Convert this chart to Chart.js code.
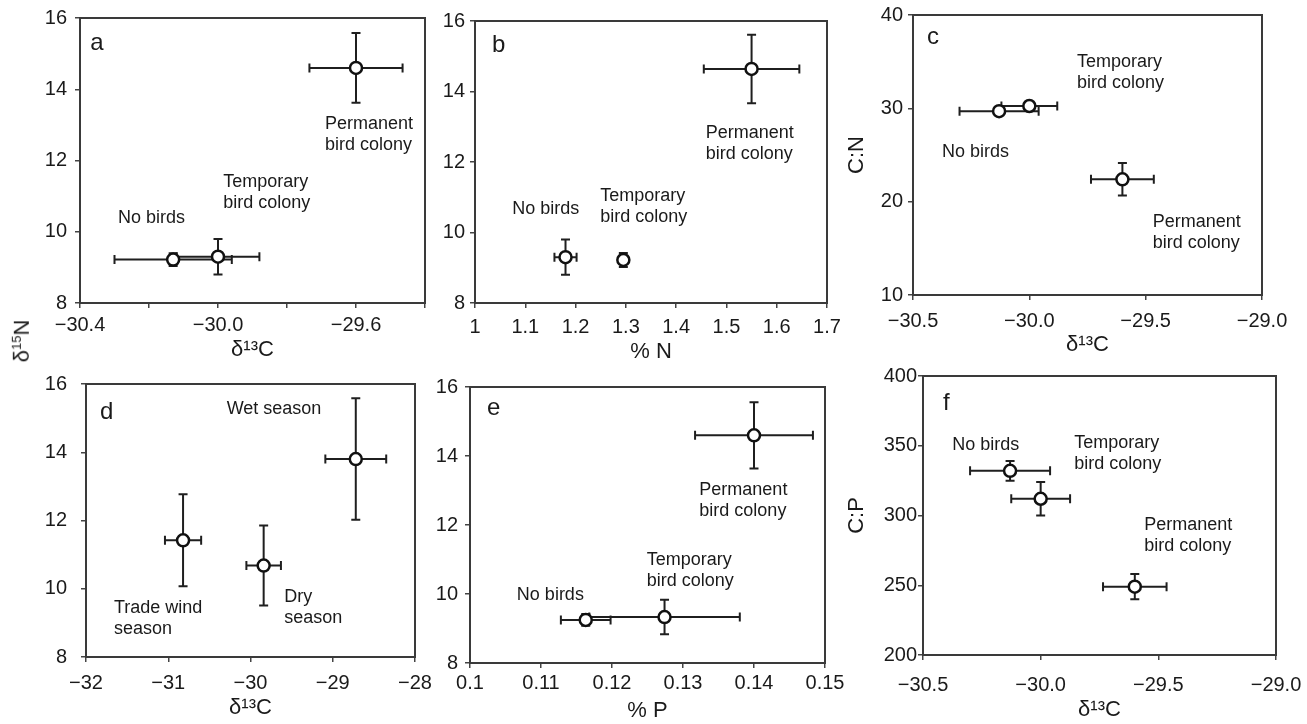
<!DOCTYPE html>
<html>
<head>
<meta charset="utf-8">
<script src="https://cdn.jsdelivr.net/npm/chart.js@4.4.1/dist/chart.umd.min.js"></script>
<style>
  body { margin: 0; background: #fff; width: 1307px; height: 724px; position: relative; overflow: hidden; font-family: "Liberation Sans", Arial, sans-serif; }
  .panel { position: absolute; }
  #ylab { position: absolute; left: 22px; top: 341px; transform: translate(-50%, -50%) rotate(-90deg); font-size: 22px; color: #1a1a1a; white-space: nowrap; }
  #ylab sup { font-size: 13px; }
</style>
</head>
<body>
<div class="panel" style="left:0;top:0;width:440px;height:363px"><canvas id="a"></canvas></div>
<div class="panel" style="left:430px;top:0;width:430px;height:365px"><canvas id="b"></canvas></div>
<div class="panel" style="left:844px;top:0;width:463px;height:358px"><canvas id="c"></canvas></div>
<div class="panel" style="left:0;top:365px;width:440px;height:356px"><canvas id="d"></canvas></div>
<div class="panel" style="left:430px;top:365px;width:430px;height:359px"><canvas id="e"></canvas></div>
<div class="panel" style="left:844px;top:365px;width:463px;height:358px"><canvas id="f"></canvas></div>
<div id="ylab">δ<sup>15</sup>N</div>
<script>
// groups: No birds, Temporary bird colony, Permanent bird colony
// panel a: d13C vs d15N
var aX = [-30.13, -30.0, -29.6];
var aY = [9.22, 9.3, 14.6];
var aXErr = [0.17, 0.12, 0.135];
var aYErr = [0.18, 0.5, 0.98];
// panel b: %N vs d15N
var bX = [1.18, 1.295, 1.55];
var bY = [9.3, 9.22, 14.64];
var bXErr = [0.022, 0.006, 0.095];
var bYErr = [0.5, 0.2, 0.97];
// panel c: d13C vs C:N
var cX = [-30.13, -30.0, -29.6];
var cY = [29.7, 30.25, 22.4];
var cXErr = [0.17, 0.12, 0.135];
var cYErr = [0.3, 0.4, 1.75];
// panel d: seasons (Trade wind, Dry, Wet)
var dX = [-30.82, -29.84, -28.72];
var dY = [11.42, 10.68, 13.8];
var dXErr = [0.22, 0.21, 0.37];
var dYErr = [1.35, 1.17, 1.78];
// panel e: %P vs d15N
var eX = [0.1163, 0.1274, 0.140];
var eY = [9.25, 9.33, 14.6];
var eXErr = [0.0035, 0.0106, 0.0083];
var eYErr = [0.17, 0.5, 0.96];
// panel f: d13C vs C:P
var fX = [-30.13, -30.0, -29.6];
var fY = [332, 312, 249];
var fXErr = [0.17, 0.125, 0.135];
var fYErr = [7, 12, 9];

// tick values and labels
var d15Ticks = [8, 10, 12, 14, 16];
var d15Labels = ['8', '10', '12', '14', '16'];
var aXTicks = [-30.4, -30.2, -30.0, -29.8, -29.6, -29.4];
var aXLabels = ['−30.4', '', '−30.0', '', '−29.6', ''];
var bXTicks = [1, 1.1, 1.2, 1.3, 1.4, 1.5, 1.6, 1.7];
var bXLabels = ['1', '1.1', '1.2', '1.3', '1.4', '1.5', '1.6', '1.7'];
var cfXTicks = [-30.5, -30.0, -29.5, -29.0];
var cfXLabels = ['−30.5', '−30.0', '−29.5', '−29.0'];
var cYTicks = [10, 20, 30, 40];
var cYLabels = ['10', '20', '30', '40'];
var dXTicks = [-32, -31, -30, -29, -28];
var dXLabels = ['−32', '−31', '−30', '−29', '−28'];
var eXTicks = [0.10, 0.11, 0.12, 0.13, 0.14, 0.15];
var eXLabels = ['0.1', '0.11', '0.12', '0.13', '0.14', '0.15'];
var fYTicks = [200, 250, 300, 350, 400];
var fYLabels = ['200', '250', '300', '350', '400'];

Chart.defaults.font.family = '"Liberation Sans", Arial, sans-serif';
Chart.defaults.color = '#1a1a1a';

var INK = '#1f1f1f';

// error bars under the markers, frame and text notes on top
var extras = {
  id: 'extras',
  beforeDatasetsDraw: function(chart) {
    var ctx = chart.ctx, sx = chart.scales.x, sy = chart.scales.y;
    ctx.save();
    ctx.strokeStyle = INK;
    ctx.lineWidth = 2;
    chart.data.datasets.forEach(function(ds) {
      ds.data.forEach(function(p, i) {
        var px = sx.getPixelForValue(p.x), py = sy.getPixelForValue(p.y);
        var x0 = sx.getPixelForValue(p.x - ds.xErr[i]), x1 = sx.getPixelForValue(p.x + ds.xErr[i]);
        var y0 = sy.getPixelForValue(p.y - ds.yErr[i]), y1 = sy.getPixelForValue(p.y + ds.yErr[i]);
        ctx.beginPath();
        ctx.moveTo(x0, py); ctx.lineTo(x1, py);
        ctx.moveTo(px, y0); ctx.lineTo(px, y1);
        ctx.moveTo(x0, py - 4.5); ctx.lineTo(x0, py + 4.5);
        ctx.moveTo(x1, py - 4.5); ctx.lineTo(x1, py + 4.5);
        ctx.moveTo(px - 4.5, y0); ctx.lineTo(px + 4.5, y0);
        ctx.moveTo(px - 4.5, y1); ctx.lineTo(px + 4.5, y1);
        ctx.stroke();
      });
    });
    ctx.restore();
  },
  afterDraw: function(chart) {
    var ctx = chart.ctx, a = chart.chartArea, sx = chart.scales.x, sy = chart.scales.y;
    var o = chart.options.plugins.extras;
    ctx.save();
    ctx.strokeStyle = '#3a3a3a';
    ctx.lineWidth = 2;
    ctx.strokeRect(a.left, a.top, a.right - a.left, a.bottom - a.top);
    ctx.fillStyle = '#1a1a1a';
    ctx.textAlign = 'left';
    ctx.textBaseline = 'middle';
    ctx.font = '24px "Liberation Sans", Arial, sans-serif';
    ctx.fillText(o.letter[0], sx.getPixelForValue(o.letter[1]), sy.getPixelForValue(o.letter[2]));
    ctx.font = '18px "Liberation Sans", Arial, sans-serif';
    o.notes.forEach(function(n) {
      var x = sx.getPixelForValue(n.x), y = sy.getPixelForValue(n.y);
      n.text.forEach(function(line, k) { ctx.fillText(line, x, y + k * 21); });
    });
    ctx.restore();
  }
};

function makePanel(id, p) {
  var pts = p.x.map(function(v, i) { return {x: v, y: p.y[i]}; });
  var axisBase = function(min, max, ticks, labels, pad) {
    return {
      type: 'linear', min: min, max: max,
      border: {display: false},
      grid: {drawOnChartArea: false, drawTicks: true, tickLength: 5, color: '#444', lineWidth: 1.5},
      afterBuildTicks: function(s) { s.ticks = ticks.map(function(v) { return {value: v}; }); },
      ticks: {
        autoSkip: false, maxRotation: 0, padding: pad, color: '#1a1a1a',
        font: {size: 20},
        callback: function(v, i) { return labels[i]; }
      }
    };
  };
  var x = axisBase(p.xMin, p.xMax, p.xTicks, p.xLabels, p.xPad);
  x.position = 'bottom';
  x.title = {display: true, text: p.xTitle, font: {size: 22}, color: '#1a1a1a', padding: 0};
  x.afterFit = function(s) { s.height = p.xHeight; s.paddingLeft = 0; s.paddingRight = 0; };
  var y = axisBase(p.yMin, p.yMax, p.yTicks, p.yLabels, p.yPad);
  y.position = 'left';
  y.title = {display: !!p.yTitle, text: p.yTitle || '', font: {size: 22}, color: '#1a1a1a', padding: 0};
  y.afterFit = function(s) { s.width = p.yWidth; s.paddingTop = 0; s.paddingBottom = 0; };

  return new Chart(id, {
    type: 'scatter',
    data: {
      datasets: [{
        data: pts,
        xErr: p.xErr,
        yErr: p.yErr,
        pointRadius: 6,
        pointBackgroundColor: '#fff',
        pointBorderColor: '#111',
        pointBorderWidth: 2.5
      }]
    },
    options: {
      responsive: true,
      maintainAspectRatio: false,
      animation: false,
      events: [],
      layout: {padding: {top: p.padTop, right: p.padRight, left: 0, bottom: 0}},
      scales: {x: x, y: y},
      plugins: {
        legend: {display: false},
        tooltip: {enabled: false},
        extras: {letter: p.letter, notes: p.notes}
      }
    },
    plugins: [extras]
  });
}

makePanel('a', {
  x: aX, y: aY, xErr: aXErr, yErr: aYErr,
  xMin: -30.4, xMax: -29.4, xTicks: aXTicks, xLabels: aXLabels, xTitle: 'δ¹³C',
  yMin: 8, yMax: 16, yTicks: d15Ticks, yLabels: d15Labels,
  yWidth: 80, xHeight: 60, padTop: 18, padRight: 15, xPad: 5, yPad: 8,
  letter: ['a', -30.37, 15.3],
  notes: [
    {text: ['No birds'], x: -30.29, y: 10.39},
    {text: ['Temporary', 'bird colony'], x: -29.985, y: 11.4},
    {text: ['Permanent', 'bird colony'], x: -29.69, y: 13.03}
  ]
});

makePanel('b', {
  x: bX, y: bY, xErr: bXErr, yErr: bYErr,
  xMin: 1, xMax: 1.7, xTicks: bXTicks, xLabels: bXLabels, xTitle: '% N',
  yMin: 8, yMax: 16, yTicks: d15Ticks, yLabels: d15Labels,
  yWidth: 45, xHeight: 62, padTop: 21, padRight: 33, xPad: 7, yPad: 5,
  letter: ['b', 1.034, 15.32],
  notes: [
    {text: ['No birds'], x: 1.074, y: 10.67},
    {text: ['Temporary', 'bird colony'], x: 1.249, y: 11.04},
    {text: ['Permanent', 'bird colony'], x: 1.459, y: 12.82}
  ]
});

makePanel('c', {
  x: cX, y: cY, xErr: cXErr, yErr: cYErr,
  xMin: -30.5, xMax: -29.0, xTicks: cfXTicks, xLabels: cfXLabels, xTitle: 'δ¹³C',
  yMin: 10, yMax: 40, yTicks: cYTicks, yLabels: cYLabels, yTitle: 'C:N',
  yWidth: 69, xHeight: 63, padTop: 15, padRight: 45, xPad: 9, yPad: 5,
  letter: ['c', -30.44, 37.65],
  notes: [
    {text: ['Temporary', 'bird colony'], x: -29.795, y: 34.97},
    {text: ['No birds'], x: -30.375, y: 25.3},
    {text: ['Permanent', 'bird colony'], x: -29.47, y: 17.8}
  ]
});

makePanel('d', {
  x: dX, y: dY, xErr: dXErr, yErr: dYErr,
  xMin: -32, xMax: -28, xTicks: dXTicks, xLabels: dXLabels, xTitle: 'δ¹³C',
  yMin: 8, yMax: 16, yTicks: d15Ticks, yLabels: d15Labels,
  yWidth: 86, xHeight: 64, padTop: 19, padRight: 25, xPad: 9, yPad: 14,
  letter: ['d', -31.83, 15.18],
  notes: [
    {text: ['Wet season'], x: -30.29, y: 15.27},
    {text: ['Trade wind', 'season'], x: -31.66, y: 9.44},
    {text: ['Dry', 'season'], x: -29.59, y: 9.76}
  ]
});

makePanel('e', {
  x: eX, y: eY, xErr: eXErr, yErr: eYErr,
  xMin: 0.1, xMax: 0.15, xTicks: eXTicks, xLabels: eXLabels, xTitle: '% P',
  yMin: 8, yMax: 16, yTicks: d15Ticks, yLabels: d15Labels,
  yWidth: 40, xHeight: 61, padTop: 22, padRight: 35, xPad: 3, yPad: 7,
  letter: ['e', 0.1024, 15.39],
  notes: [
    {text: ['Permanent', 'bird colony'], x: 0.1323, y: 13.01},
    {text: ['Temporary', 'bird colony'], x: 0.1249, y: 10.99},
    {text: ['No birds'], x: 0.1066, y: 9.97}
  ]
});

makePanel('f', {
  x: fX, y: fY, xErr: fXErr, yErr: fYErr,
  xMin: -30.5, xMax: -29.0, xTicks: cfXTicks, xLabels: cfXLabels, xTitle: 'δ¹³C',
  yMin: 200, yMax: 400, yTicks: fYTicks, yLabels: fYLabels, yTitle: 'C:P',
  yWidth: 79, xHeight: 68, padTop: 11, padRight: 31, xPad: 13, yPad: 1,
  letter: ['f', -30.415, 380.6],
  notes: [
    {text: ['No birds'], x: -30.376, y: 350.5},
    {text: ['Temporary', 'bird colony'], x: -29.857, y: 352},
    {text: ['Permanent', 'bird colony'], x: -29.56, y: 293}
  ]
});
</script>
</body>
</html>
